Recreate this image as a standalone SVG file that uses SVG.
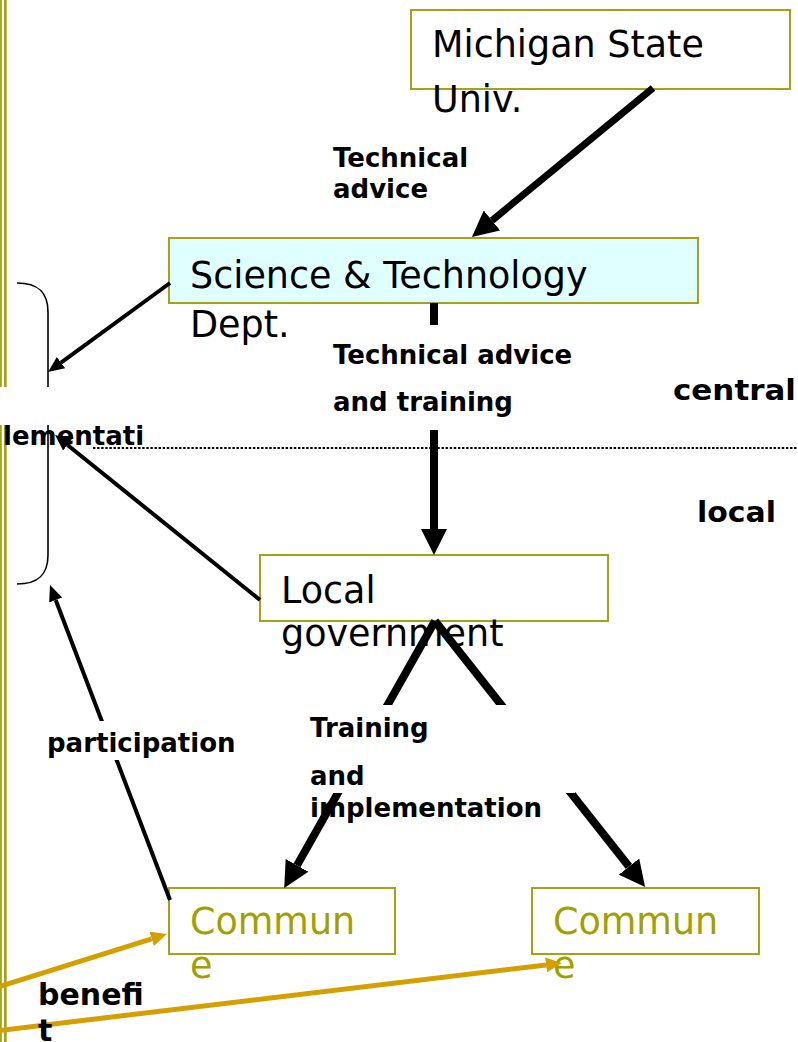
<svg xmlns="http://www.w3.org/2000/svg" width="798" height="1042" viewBox="0 0 798 1042">
<style>
.box{fill:#ffffff;stroke:#a3a31a;stroke-width:2}
.cyan{fill:#e0ffff}
.big{font-family:"DejaVu Sans",Verdana,sans-serif;font-size:36.5px;fill:#000}
.olive{fill:#a0a000}
.lbl{font-family:"DejaVu Sans",Verdana,sans-serif;font-weight:bold;font-size:26px;fill:#000}
.thick{stroke:#000;stroke-width:8;fill:none}
.thin{stroke:#000;stroke-width:4;fill:none}
.gold{stroke:#d4a000;stroke-width:5;fill:none}
.bg{fill:#ffffff}
</style>
<defs>
<marker id="ahT" markerUnits="userSpaceOnUse" markerWidth="26" markerHeight="26" viewBox="0 0 26 26" refX="0" refY="13" orient="auto"><path d="M0,0 L26,13 L0,26 z" fill="#000"/></marker>
<marker id="ahS" markerUnits="userSpaceOnUse" markerWidth="16" markerHeight="14" viewBox="0 0 16 14" refX="0" refY="7" orient="auto"><path d="M0,0 L16,7 L0,14 z" fill="#000"/></marker>
<marker id="ahG" markerUnits="userSpaceOnUse" markerWidth="16" markerHeight="15" viewBox="0 0 16 15" refX="0" refY="7.5" orient="auto"><path d="M0,0 L16,7.5 L0,15 z" fill="#d4a000"/></marker>
</defs>

<g id="frame">
<rect x="0" y="0" width="1.8" height="1042" fill="#a3a31a"/>
<rect x="4" y="0" width="2.7" height="1042" fill="#a3a31a"/>
<path d="M17,283 C38,283 48,292 48,312 V555 C48,575 38,584 17,584" fill="none" stroke="#000" stroke-width="1.6"/>
<line x1="93" y1="448" x2="798" y2="448" stroke="#000" stroke-width="2" stroke-dasharray="2.4 1.7"/>
</g>

<g id="msu">
<rect class="box" x="411" y="10" width="379" height="79"/>
<text class="big" x="432" y="57">Michigan State</text>
<text class="big" x="432" y="112">Univ.</text>
</g>

<g id="st">
<rect class="box cyan" x="169" y="238" width="529" height="65"/>
<text class="big" x="190" y="288">Science &amp; Technology</text>
<text class="big" x="190" y="337">Dept.</text>
</g>

<g id="gov">
<rect class="box" x="260" y="555" width="348" height="66"/>
<text class="big" x="281" y="603">Local</text>
<text class="big" x="281" y="646">government</text>
</g>

<g id="commune1">
<rect class="box" x="169" y="888" width="226" height="66"/>
<text class="big olive" x="190" y="934">Commun</text>
<text class="big olive" x="190" y="978">e</text>
</g>

<g id="commune2">
<rect class="box" x="532" y="888" width="227" height="66"/>
<text class="big olive" x="553" y="934">Commun</text>
<text class="big olive" x="553" y="978">e</text>
</g>

<g id="connectors">
<line class="thick" x1="653" y1="88" x2="492" y2="220.5" marker-end="url(#ahT)" style="stroke-width:7"/>
<path class="thick" d="M434,303 V325 M434,430 V529" marker-end="url(#ahT)"/>
<line class="thick" x1="435" y1="621" x2="297" y2="865.4" marker-end="url(#ahT)"/>
<line class="thick" x1="435" y1="621" x2="629" y2="866.6" marker-end="url(#ahT)"/>
<line class="thin" x1="170" y1="283" x2="61" y2="362.6" marker-end="url(#ahS)"/>
<line class="thin" x1="260" y1="600" x2="67.5" y2="445" marker-end="url(#ahS)"/>
<line class="thin" x1="170" y1="900" x2="55.7" y2="600" marker-end="url(#ahS)"/>
<line class="gold" x1="-5" y1="988" x2="151.7" y2="938.8" marker-end="url(#ahG)"/>
<line class="gold" x1="-5" y1="1031" x2="546" y2="964.9" marker-end="url(#ahG)"/>
</g>

<g id="labels">
<text class="lbl" x="333" y="167">Technical</text>
<text class="lbl" x="333" y="198">advice</text>
<rect class="bg" x="330" y="325" width="250" height="105"/>
<text class="lbl" x="333" y="364">Technical advice</text>
<text class="lbl" x="333" y="411">and training</text>
<text class="lbl" x="673" y="400" style="font-size:28px" textLength="123" lengthAdjust="spacingAndGlyphs">central</text>
<text class="lbl" x="697" y="522" style="font-size:28px" textLength="79" lengthAdjust="spacingAndGlyphs">local</text>
<rect class="bg" x="0" y="387" width="150" height="38"/>
<text class="lbl" x="3" y="445">lementati</text>
<rect class="bg" x="46" y="721" width="192" height="39"/>
<text class="lbl" x="47" y="752">participation</text>
<rect class="bg" x="300" y="705" width="275" height="88"/>
<text class="lbl" x="310" y="737">Training</text>
<text class="lbl" x="310" y="785">and</text>
<text class="lbl" x="310" y="817">implementation</text>
<text class="lbl" x="38" y="1005" style="font-size:30px">benefi</text>
<text class="lbl" x="38" y="1041" style="font-size:30px">t</text>
</g>
</svg>
